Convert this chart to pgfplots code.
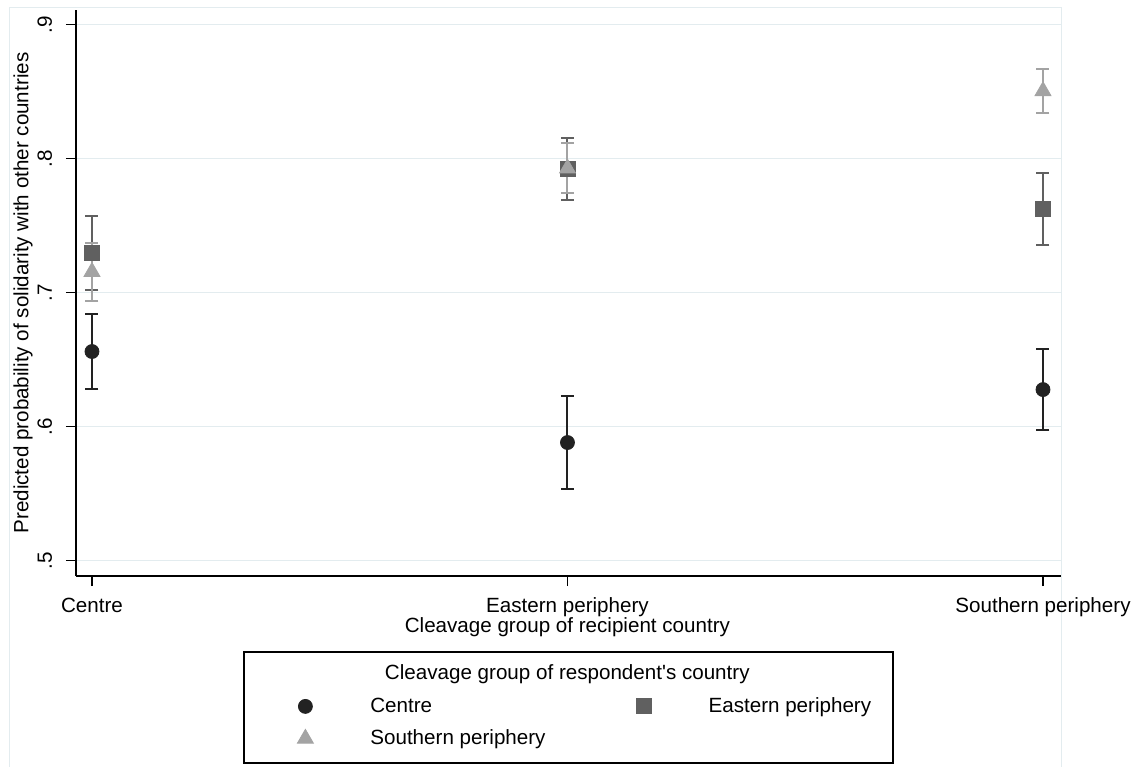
\documentclass[border=0pt]{standalone}
\usepackage{fontspec}
\setmainfont{Liberation Sans}
\usepackage{pgfplots}
\pgfplotsset{compat=1.18}
\definecolor{cC}{HTML}{222222}
\definecolor{cE}{HTML}{606060}
\definecolor{cS}{HTML}{A3A3A3}
\definecolor{gridc}{HTML}{E3ECEF}
\newcommand{\PX}[2]{({(#1)*0.5pt},{(767-(#2))*0.5pt})}
\begin{document}
\begin{tikzpicture}[font=\fontsize{10.3}{12.4}\selectfont]
\useasboundingbox (0,0) rectangle (569pt,383.5pt);
\draw[gridc, line width=0.5pt] \PX{9}{767} -- \PX{9}{8} -- \PX{1061}{8} -- \PX{1061}{767};
\begin{axis}[
  at={(38pt,95.5pt)}, anchor=south west,
  scale only axis, width=492.5pt, height=283pt,
  xmin=-0.0336, xmax=2.0379, ymin=0.48858, ymax=0.91097,
  axis lines*=left, axis line style={-, black, line width=0.6pt},
  tick align=outside, major tick length=5pt,
  tick style={black, line width=0.6pt},
  xtick={0,1,2}, xticklabels={Centre,Eastern periphery,Southern periphery},
  ytick={0.5,0.6,0.7,0.8,0.9}, yticklabels={.5,.6,.7,.8,.9},
  yticklabel style={xshift=-7pt, rotate=90, anchor=base, inner sep=0pt},
  xticklabel style={yshift=-13.2pt, anchor=base, inner sep=0pt},
  ymajorgrids, grid style={gridc, line width=0.75pt},
  clip=false,
  xlabel={Cleavage group of recipient country},
  ylabel={Predicted probability of solidarity with other countries},
  every axis x label/.style={at={(axis description cs:0.4989,-0.0901)}, anchor=center},
  every axis y label/.style={at={(axis description cs:-0.0538,0.5)}, rotate=90, anchor=center},
  legend columns=2,
  legend cell align=left,
  legend image code/.code={\draw[#1] plot coordinates {(0pt,0pt)};},
  legend style={draw=none, fill=none, at={(axis description cs:0.2244,-0.2138)}, anchor=north west,
    inner sep=0pt, row sep=7pt, column sep=28.5pt,
    nodes={inner sep=0pt},
    /tikz/every even column/.append style={column sep=45.5pt}},
]
\addplot[only marks, color=cC, mark=*, mark size=3.5pt, mark options={fill=cC, draw=cC},
  error bars/.cd, y dir=both, y explicit,
  error bar style={line width=1pt, cC},
  error mark options={rotate=90, mark size=3.25pt, line width=1pt, cC}]
  coordinates {(0,0.6561) +- (0,0.0280) (1,0.5882) +- (0,0.0347) (2,0.6277) +- (0,0.0301)};
\addlegendentry{Centre}
\addplot[only marks, color=cE, mark=square*, mark size=3.75pt, mark options={fill=cE, draw=cE},
  error bars/.cd, y dir=both, y explicit,
  error bar style={line width=1pt, cE},
  error mark options={rotate=90, mark size=3.25pt, line width=1pt, cE}]
  coordinates {(0,0.7296) +- (0,0.0276) (1,0.7922) +- (0,0.0230) (2,0.7626) +- (0,0.0270)};
\addlegendentry{Eastern periphery}
\addplot[only marks, color=cS, mark=triangle*, mark size=4.6pt, mark options={fill=cS, draw=cS},
  error bars/.cd, y dir=both, y explicit,
  error bar style={line width=1pt, cS},
  error mark options={rotate=90, mark size=3.25pt, line width=1pt, cS}]
  coordinates {(0,0.7156) +- (0,0.0218) (1,0.7928) +- (0,0.0187) (2,0.8505) +- (0,0.0162)};
\addlegendentry{Southern periphery}
\end{axis}
\draw[black, line width=0.6pt] \PX{244}{652} rectangle \PX{893}{763};
\node[anchor=center, inner sep=0pt] at \PX{567.3}{674} {Cleavage group of respondent\textquotesingle s country};
\end{tikzpicture}
\end{document}
